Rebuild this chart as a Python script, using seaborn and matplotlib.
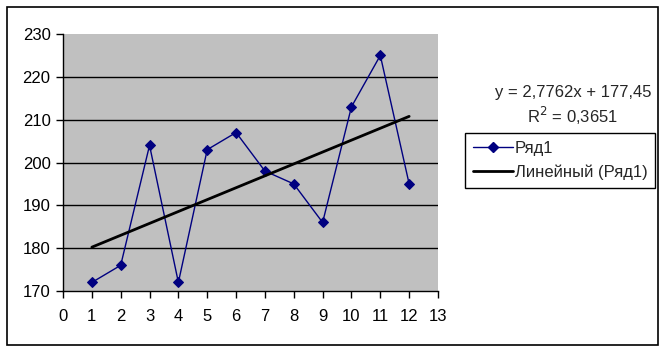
import matplotlib
matplotlib.use("Agg")
import matplotlib.pyplot as plt
import seaborn as sns
import numpy as np
import pandas as pd
from matplotlib.patches import Rectangle
from matplotlib.lines import Line2D

x_vals = [1, 2, 3, 4, 5, 6, 7, 8, 9, 10, 11, 12]
y_vals = [172, 176, 204, 172, 203, 207, 198, 195, 186, 213, 225, 195]
series_name = "Ряд1"
trend_name = "Линейный (Ряд1)"
x_ticks = list(range(0, 14))
y_ticks = [170, 180, 190, 200, 210, 220, 230]

df = pd.DataFrame({"x": x_vals, "y": y_vals})

sns.set_theme(style="white")
plt.rcParams['font.family'] = ['Liberation Sans', 'DejaVu Sans']

FS = 12

fig = plt.figure(figsize=(6.65, 3.51), dpi=100)
fig.patch.set_facecolor("white")
fig.add_artist(Rectangle((7/665, 6/351), 651/665, 338/351, transform=fig.transFigure,
                         fill=False, edgecolor="black", linewidth=1.2))

ax = fig.add_axes([63/665, 60/351, 375/665, 257/351])
ax.set_facecolor("#c0c0c0")

ax.grid(False)
for yt in y_ticks[1:-1]:
    ax.axhline(yt, color="black", linewidth=1, zorder=1)

sns.lineplot(data=df, x="x", y="y", ax=ax, color="#000080", linewidth=1,
             marker="D", markersize=5, markeredgecolor="#000080", zorder=3)

# linear trend
coef = np.polyfit(x_vals, y_vals, 1)
pred = np.polyval(coef, x_vals)
r2 = 1 - np.sum((np.array(y_vals) - pred) ** 2) / np.sum((np.array(y_vals) - np.mean(y_vals)) ** 2)
sns.regplot(data=df, x="x", y="y", ax=ax, scatter=False, ci=None, truncate=True,
            line_kws={"color": "black", "linewidth": 2, "zorder": 4})

ax.set_xlim(0, 13)
ax.set_ylim(170, 230)
ax.set_xticks(x_ticks)
ax.set_yticks(y_ticks)
ax.set_xlabel("")
ax.set_ylabel("")
for s in ["top", "right"]:
    ax.spines[s].set_visible(False)
for s in ["left", "bottom"]:
    ax.spines[s].set_color("black")
    ax.spines[s].set_linewidth(1)
ax.tick_params(axis="both", direction="out", length=5, width=1, color="black",
               labelsize=FS, labelcolor="black", bottom=True, left=True)
ax.tick_params(axis="x", pad=8)
ax.tick_params(axis="y", pad=4)

eq = "y = {:.4f}x + {:.2f}".format(coef[0], coef[1]).replace(".", ",")
r2s = "R$^2$ = {:.4f}".format(r2).replace(".", ",")
fig.text(573/665, 1 - 92/351, eq, ha="center", va="center", fontsize=FS)
fig.text(573/665, 1 - 116/351, r2s, ha="center", va="center", fontsize=FS)

handles = [Line2D([], [], color="#000080", linewidth=1, marker="D", markersize=5),
           Line2D([], [], color="black", linewidth=2)]
leg = fig.legend(handles, [series_name, trend_name], loc="upper left",
                 bbox_to_anchor=(465/665, 1 - 133/351), fontsize=FS,
                 frameon=True, fancybox=False, edgecolor="black", framealpha=1,
                 handlelength=2.4, handletextpad=0.15, borderpad=0.45, labelspacing=0.55,
                 borderaxespad=0)
leg.get_frame().set_linewidth(1)

fig.savefig("out.png", dpi=100)
